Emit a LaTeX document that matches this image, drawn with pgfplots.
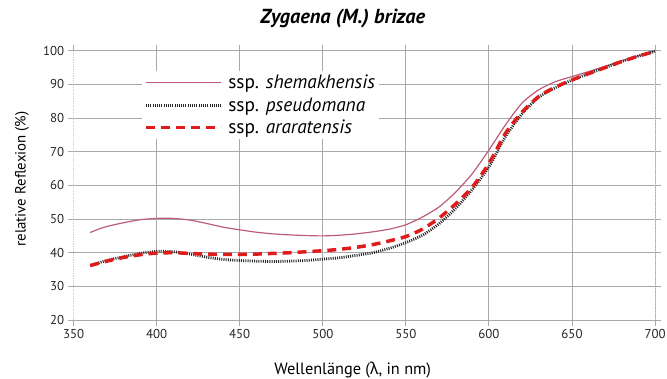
\documentclass[border=0pt]{standalone}
\usepackage{pgfplots}
\pgfplotsset{compat=1.18}
\usepackage{fontspec}
\setmainfont{PT Sans}
\newfontfamily\greekfont{Noto Sans}
\definecolor{pinkline}{RGB}{188,92,122}
\definecolor{redline}{RGB}{222,28,28}
\definecolor{gridgray}{RGB}{168,168,168}
\begin{document}
\begin{tikzpicture}
\useasboundingbox (-74bp,-59bp) rectangle (597bp,322bp);
\begin{axis}[
  at={(0,0)}, anchor=south west,
  scale only axis,
  width=585bp, height=271bp,
  xmin=350, xmax=700, ymin=20, ymax=100,
  xtick={400,450,...,700},
  extra x ticks={350},
  extra x tick style={grid=none},
  ytick={20,30,...,100},
  grid=major,
  major grid style={gridgray, line width=0.9bp},
  separate axis lines,
  x axis line style={draw=none},
  y axis line style={gridgray!60, densely dotted, line width=0.8bp},
  tick align=outside,
  major tick length=6bp,
  tick style={gridgray, line width=0.9bp},
  /pgf/number format/assume math mode=true,
  /pgf/number format/1000 sep={},
  tick label style={font=\fontsize{13}{15}\selectfont, text=black!85},
  xlabel={Wellenlänge ({\greekfont λ}, in nm)},
  ylabel={relative Reflexion (\%)},
  xlabel style={font=\fontsize{16.5}{19}\selectfont, at={(axis description cs:0.48,-0.185)}, anchor=center},
  ylabel style={font=\fontsize{15}{17}\selectfont, at={(axis description cs:-0.0889,0.524)}, anchor=center},
  title={\textbf{\textit{Zygaena (M.) brizae}}},
  title style={font=\fontsize{20.5}{23}\selectfont, at={(axis description cs:0.463,1.096)}, anchor=center},
  legend style={at={(0.118,0.925)}, anchor=north west, draw=none, fill=white,
    font=\fontsize{19.5}{22}\selectfont, row sep=3.5bp, inner sep=2bp},
  legend cell align=left,
  legend image code/.code={\draw[#1] (0bp,0bp) -- (75bp,0bp); \path (79bp,0bp);},
]
\addplot[pinkline, line width=1.2bp, smooth, tension=0.4] coordinates {
(360,46.0)(365,47.0)(370,47.8)(380,48.9)(390,49.8)(400,50.2)(410,50.2)
(420,49.7)(430,48.7)(440,47.6)(450,46.8)(460,46.1)(470,45.6)(480,45.3)
(490,45.1)(500,45.0)(510,45.2)(520,45.6)(530,46.2)(540,47.0)(550,48.3)
(560,50.6)(570,53.6)(580,58.0)(590,63.5)(600,70.5)(610,78.0)(620,84.5)
(630,88.4)(640,90.8)(650,92.3)(660,93.8)(670,95.4)(680,97.0)(690,98.5)(700,100)
};
\addlegendentry{ssp. \textit{shemakhensis}}
\addplot[black!85, line width=2.8bp, dash pattern=on 1bp off 1.2bp, smooth, tension=0.4] coordinates {
(360,36.2)(370,37.7)(380,38.8)(390,39.8)(400,40.4)(410,40.3)(420,39.6)
(430,38.7)(440,38.0)(450,37.7)(460,37.5)(470,37.4)(480,37.5)(490,37.7)
(500,38.1)(510,38.5)(520,39.2)(530,40.0)(540,41.3)(550,43.0)(560,45.2)
(570,48.6)(580,53.2)(590,58.8)(600,65.5)(610,74.5)(620,81.3)(630,86.2)
(640,89.0)(650,91.3)(660,93.2)(670,95.0)(680,96.8)(690,98.4)(700,99.8)
};
\addlegendentry{ssp. \textit{pseudomana}}
\addplot[redline, line width=3.5bp, dash pattern=on 9bp off 6bp, smooth, tension=0.4] coordinates {
(360,36.2)(370,37.5)(380,38.6)(390,39.4)(400,39.9)(410,40.0)(420,39.8)
(430,39.6)(440,39.5)(450,39.5)(460,39.6)(470,39.8)(480,40.0)(490,40.3)
(500,40.6)(510,41.0)(520,41.6)(530,42.4)(540,43.5)(550,44.8)(560,47.0)
(570,50.3)(580,54.5)(590,59.5)(600,66.5)(610,75.5)(620,81.8)(630,86.4)
(640,89.2)(650,91.3)(660,93.2)(670,95.0)(680,96.8)(690,98.4)(700,99.8)
};
\addlegendentry{ssp. \textit{araratensis}}
\end{axis}
\end{tikzpicture}
\end{document}
